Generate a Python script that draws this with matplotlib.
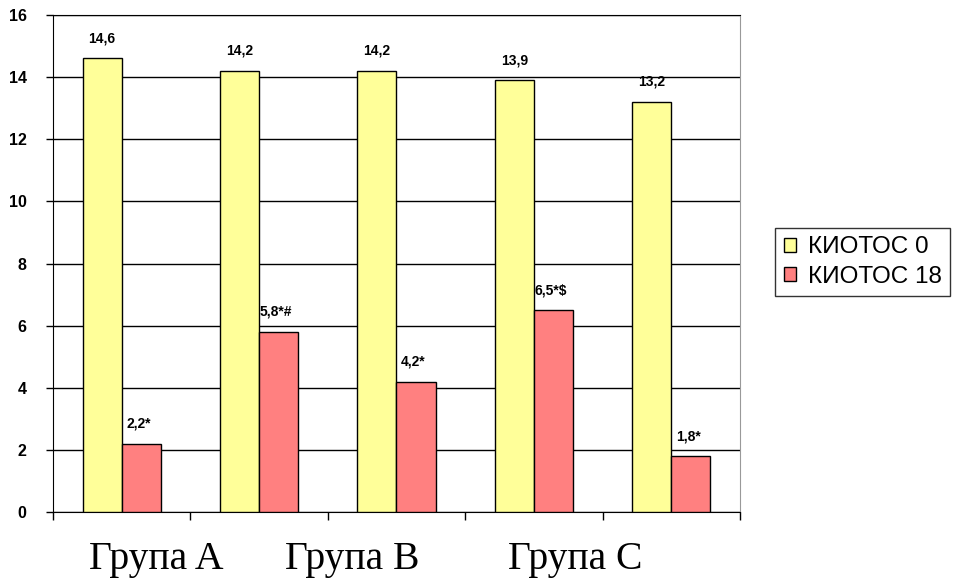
import matplotlib.pyplot as plt
import numpy as np

# values
kiotos0 = [14.6, 14.2, 14.2, 13.9, 13.2]
kiotos18 = [2.2, 5.8, 4.2, 6.5, 1.8]
labels0 = ['14,6', '14,2', '14,2', '13,9', '13,2']
labels18 = ['2,2*', '5,8*#', '4,2*', '6,5*$', '1,8*']
group_names = ['Група A', 'Група B', 'Група C']
series_names = ['КИОТОС 0', 'КИОТОС 18']

fig = plt.figure(figsize=(9.54, 5.81), dpi=100)
ax = fig.add_axes([53 / 954, 1 - 512 / 581, (740 - 53) / 954, (512 - 15) / 581])

x = np.arange(len(kiotos0))
w = 0.285
b0 = ax.bar(x - w / 2, kiotos0, w, color='#FFFF99', edgecolor='black', linewidth=1, zorder=3, label=series_names[0])
b1 = ax.bar(x + w / 2, kiotos18, w, color='#FF8080', edgecolor='black', linewidth=1, zorder=3, label=series_names[1])

lab_font = dict(fontsize=10, fontweight='bold', family='Liberation Sans', ha='center', va='bottom')
for xi, v, t in zip(x, kiotos0, labels0):
    ax.text(xi - w / 2, v + 0.42, t, **lab_font)
for xi, v, t in zip(x, kiotos18, labels18):
    ax.text(xi + w / 2 - 0.02, v + 0.42, t, **lab_font)

ax.set_xlim(-0.5, len(x) - 0.5)
ax.set_ylim(0, 16)
ax.set_yticks(np.arange(0, 17, 2))
ax.set_yticklabels([str(v) for v in range(0, 17, 2)], fontsize=11.5, fontweight='bold', family='Liberation Sans')
ax.set_xticks(np.arange(-0.5, len(x), 1.0))
ax.set_xticklabels([])
ax.tick_params(axis='x', length=6, width=1, direction='out')
ax.tick_params(axis='y', length=5, width=1, direction='out', pad=14)
ax.yaxis.grid(True, color='black', linewidth=1, zorder=0)
ax.set_axisbelow(True)
for s in ['left', 'bottom', 'top']:
    ax.spines[s].set_color('black')
ax.spines['right'].set_color('#999999')

# group captions below the axis
cap_x = [156, 352, 575]
for cx, name in zip(cap_x, group_names):
    fig.text(cx / 954, 1 - 560 / 581, name, fontsize=28.5, family='Liberation Serif', ha='center', va='center')

leg = fig.legend(handles=[b0, b1], loc='center left', bbox_to_anchor=(775 / 954, 1 - 262 / 581),
                 prop={'family': 'Liberation Sans', 'size': 17.5}, frameon=True, fancybox=False,
                 edgecolor='black', handlelength=0.5, handleheight=0.5, handletextpad=0.5,
                 borderpad=0.35, labelspacing=0.3, borderaxespad=0)
leg.get_frame().set_linewidth(1)

fig.savefig('out.png', dpi=100)
